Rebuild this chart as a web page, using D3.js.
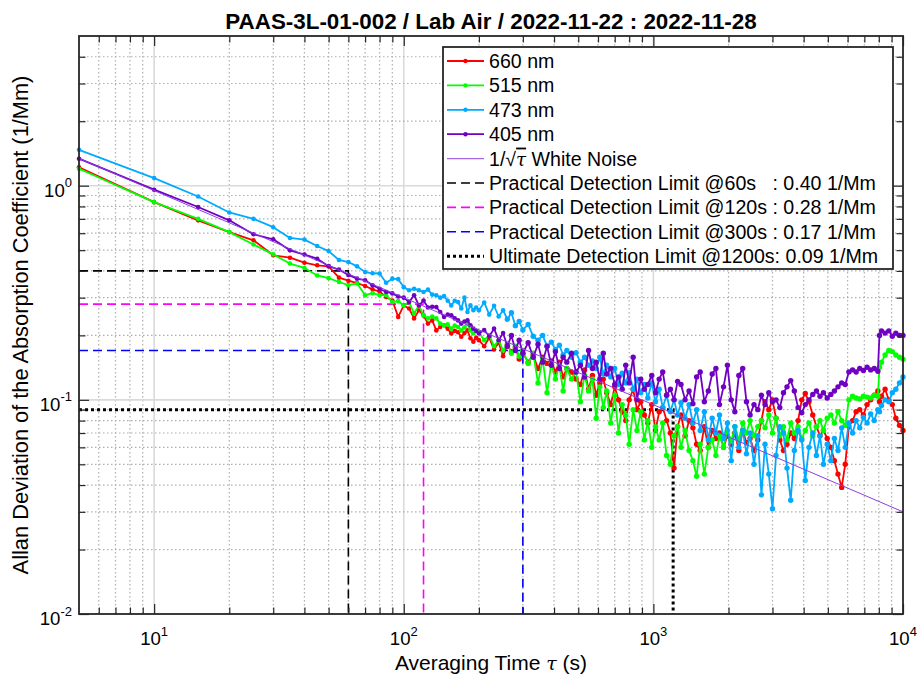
<!DOCTYPE html>
<html><head><meta charset="utf-8">
<script src="https://cdn.jsdelivr.net/npm/d3@7"></script>
<style>
body{margin:0;background:#fff}
text{font-family:"Liberation Sans",Arial,Helvetica,sans-serif;fill:#000}
</style>
</head><body>
<svg id="c" width="919" height="676"></svg>
<script>
// ---------------- DATA ----------------
const tau = [
5,10,15,20,25,30,35,40,45,50,
55,60,65,70,75,80,85,90,95,100,
105,110,115,120,125,130,135,140,145,150,
155,160,165,170,175,180,185,190,195,200,
210,220,230,240,250,260,270,280,290,300,
315,330,345,360,375,390,405,420,435,450,
470,490,510,530,550,570,590,610,630,650,
675,700,725,750,775,800,830,860,890,920,
950,985,1020,1055,1090,1130,1170,1210,1250,1290,
1340,1390,1440,1490,1540,1600,1660,1720,1780,1840,
1910,1980,2050,2120,2200,2280,2360,2440,2530,2620,
2710,2800,2900,3000,3100,3210,3320,3430,3550,3670,
3800,3930,4060,4200,4350,4500,4650,4800,4970,5140,
5310,5490,5680,5870,6070,6280,6490,6710,6940,7180,
7420,7670,7930,8050,8200,8480,8770,9060,9360,9680,10000];

const adev660 = [
1.22,0.838,0.689,0.607,0.556,0.473,0.461,0.437,0.425,0.42,
0.372,0.36,0.351,0.34,0.328,0.32,0.302,0.291,0.244,0.276,
0.267,0.24,0.262,0.248,0.227,0.235,0.211,0.219,0.223,0.215,
0.204,0.21,0.207,0.197,0.205,0.211,0.194,0.187,0.195,0.19,
0.178,0.195,0.172,0.185,0.16,0.18,0.168,0.175,0.155,0.165,
0.15,0.162,0.14,0.158,0.148,0.152,0.135,0.15,0.128,0.14,
0.135,0.125,0.118,0.138,0.112,0.13,0.105,0.12,0.125,0.108,
0.095,0.115,0.1,0.088,0.08,0.1,0.112,0.09,0.098,0.085,
0.078,0.095,0.072,0.088,0.092,0.08,0.07,0.048,0.075,0.085,
0.068,0.08,0.074,0.062,0.058,0.075,0.06,0.072,0.066,0.07,
0.06,0.068,0.062,0.07,0.058,0.072,0.063,0.066,0.058,0.065,
0.08,0.098,0.09,0.1,0.082,0.065,0.058,0.062,0.07,0.066,
0.08,0.1,0.107,0.098,0.085,0.075,0.068,0.072,0.066,0.06,
0.052,0.045,0.039,0.05,0.075,0.08,0.088,0.09,0.085,0.095,
0.1,0.105,0.11,0.098,0.104,0.112,0.1,0.095,0.082,0.076,0.072];

const adev515 = [
1.20,0.838,0.70,0.607,0.531,0.478,0.433,0.413,0.381,0.37,
0.355,0.343,0.35,0.308,0.315,0.308,0.308,0.286,0.289,0.276,
0.286,0.253,0.276,0.248,0.24,0.245,0.24,0.227,0.223,0.225,
0.215,0.222,0.219,0.211,0.218,0.227,0.211,0.204,0.21,0.207,
0.19,0.2,0.178,0.19,0.17,0.182,0.165,0.178,0.16,0.17,
0.148,0.165,0.12,0.155,0.108,0.148,0.125,0.145,0.11,0.14,
0.125,0.135,0.098,0.13,0.11,0.125,0.082,0.115,0.092,0.11,
0.078,0.105,0.07,0.095,0.085,0.062,0.09,0.072,0.088,0.065,
0.08,0.06,0.075,0.065,0.078,0.055,0.05,0.068,0.075,0.06,
0.072,0.058,0.052,0.044,0.062,0.045,0.06,0.065,0.055,0.068,
0.06,0.072,0.064,0.075,0.065,0.078,0.07,0.08,0.068,0.075,
0.08,0.074,0.085,0.07,0.082,0.068,0.075,0.065,0.078,0.07,
0.075,0.066,0.072,0.078,0.068,0.075,0.08,0.072,0.082,0.085,
0.078,0.088,0.08,0.076,0.1,0.104,0.102,0.101,0.104,0.103,
0.102,0.105,0.104,0.142,0.15,0.162,0.17,0.168,0.162,0.158,0.155];

const adev473 = [
1.47,1.085,0.89,0.75,0.70,0.64,0.57,0.56,0.523,0.495,
0.45,0.44,0.42,0.395,0.39,0.389,0.352,0.368,0.366,0.336,
0.325,0.33,0.325,0.319,0.327,0.31,0.308,0.30,0.305,0.29,
0.276,0.29,0.286,0.267,0.30,0.257,0.276,0.262,0.27,0.262,
0.285,0.25,0.275,0.245,0.262,0.238,0.255,0.222,0.232,0.212,
0.225,0.198,0.19,0.2,0.178,0.186,0.172,0.18,0.162,0.17,
0.158,0.166,0.15,0.158,0.145,0.152,0.14,0.158,0.132,0.145,
0.128,0.14,0.118,0.133,0.12,0.134,0.112,0.125,0.108,0.118,
0.102,0.12,0.098,0.112,0.092,0.105,0.088,0.1,0.085,0.097,
0.082,0.095,0.078,0.09,0.072,0.088,0.065,0.082,0.07,0.085,
0.066,0.078,0.052,0.075,0.06,0.072,0.056,0.07,0.05,0.068,
0.036,0.062,0.045,0.031,0.055,0.075,0.07,0.048,0.034,0.058,
0.072,0.065,0.042,0.06,0.07,0.055,0.068,0.05,0.062,0.052,
0.066,0.058,0.074,0.06,0.078,0.07,0.08,0.074,0.083,0.078,
0.086,0.08,0.09,0.088,0.094,0.1,0.098,0.108,0.112,0.12,0.128];

const adev405 = [
1.337,0.958,0.795,0.689,0.593,0.562,0.499,0.477,0.456,0.421,
0.406,0.383,0.368,0.362,0.343,0.33,0.319,0.314,0.304,0.30,
0.286,0.308,0.276,0.291,0.27,0.272,0.271,0.257,0.244,0.25,
0.248,0.24,0.235,0.227,0.232,0.235,0.223,0.215,0.21,0.204,
0.212,0.198,0.215,0.19,0.205,0.178,0.2,0.17,0.19,0.165,
0.185,0.158,0.182,0.15,0.178,0.145,0.168,0.14,0.158,0.15,
0.165,0.135,0.145,0.128,0.17,0.14,0.15,0.125,0.165,0.132,
0.14,0.118,0.128,0.112,0.145,0.12,0.158,0.1,0.125,0.112,
0.118,0.13,0.108,0.125,0.135,0.105,0.112,0.1,0.122,0.118,
0.1,0.11,0.096,0.128,0.135,0.098,0.11,0.132,0.14,0.095,
0.115,0.145,0.1,0.088,0.13,0.14,0.098,0.085,0.095,0.09,
0.105,0.095,0.108,0.098,0.1,0.092,0.108,0.115,0.123,0.11,
0.092,0.087,0.095,0.1,0.106,0.11,0.104,0.108,0.102,0.106,
0.11,0.115,0.12,0.118,0.135,0.138,0.135,0.14,0.137,0.142,
0.138,0.14,0.136,0.2,0.21,0.205,0.21,0.198,0.205,0.2,0.2];

const seriesNames = ["660 nm","515 nm","473 nm","405 nm"];
const whiteNoiseTau = [5, 10000];
const whiteNoiseVal = [1.342, 0.030];
const limitTau = [60, 120, 300, 1200];
const limitVal = [0.40, 0.28, 0.17, 0.09];
const limitLabels = [
  "Practical Detection Limit @60s   : 0.40 1/Mm",
  "Practical Detection Limit @120s : 0.28 1/Mm",
  "Practical Detection Limit @300s : 0.17 1/Mm",
  "Ultimate Detection Limit @1200s: 0.09 1/Mm"];
const xTickValues = [10, 100, 1000, 10000];
const xTickExp = ["1","2","3","4"];
const yTickValues = [0.01, 0.1, 1];
const yTickExp = ["-2","-1","0"];
const titleText = "PAAS-3L-01-002 / Lab Air / 2022-11-22 : 2022-11-28";

// ---------------- CHART ----------------
const svg = d3.select("#c");
const L = 79, R = 903, T = 36, B = 614;
const x = d3.scaleLog().domain([5, 10000]).range([L, R]);
const y = d3.scaleLog().domain([0.01, 5]).range([B, T]);

const seriesColors = ["#ff0000", "#00ff00", "#00aaff", "#7000c2"];
const wnColor = "#8a3ee6";
const limitStyles = [
  {c:"#000000", w:1.6, d:"9,5"},
  {c:"#ff00ff", w:1.6, d:"9,5"},
  {c:"#0000ff", w:1.6, d:"9,5"},
  {c:"#000000", w:3, d:"3,3"}];

// grid
const xAll = x.ticks();
const yAll = y.ticks();
const isDecade = v => Math.abs(Math.log10(v) - Math.round(Math.log10(v))) < 1e-9;
const gGrid = svg.append("g");
xAll.filter(v => v > 5 && v < 10000).forEach(v => {
  const maj = isDecade(v);
  gGrid.append("line").attr("x1", x(v)).attr("x2", x(v)).attr("y1", T).attr("y2", B)
    .attr("stroke", maj ? "#dadada" : "#b0b0b0").attr("stroke-width", maj ? 1.6 : 1.2)
    .attr("stroke-dasharray", maj ? null : "1.5,2.5");
});
yAll.filter(v => v > 0.01 && v < 5).forEach(v => {
  const maj = isDecade(v);
  gGrid.append("line").attr("y1", y(v)).attr("y2", y(v)).attr("x1", L).attr("x2", R)
    .attr("stroke", maj ? "#dadada" : "#b0b0b0").attr("stroke-width", maj ? 1.6 : 1.2)
    .attr("stroke-dasharray", maj ? null : "1.5,2.5");
});

// detection limit lines
const gLim = svg.append("g");
limitTau.forEach((t, i) => {
  const s = limitStyles[i];
  const p = d3.path();
  p.moveTo(x(5), y(limitVal[i])); p.lineTo(x(t), y(limitVal[i])); p.lineTo(x(t), y(0.01));
  gLim.append("path").attr("d", p.toString()).attr("fill", "none")
    .attr("stroke", s.c).attr("stroke-width", s.w).attr("stroke-dasharray", s.d);
});

// data series
const allSeries = [adev660, adev515, adev473, adev405];
const line = d3.line().x(d => x(d[0])).y(d => y(d[1]));
const gData = svg.append("g");
allSeries.forEach((vals, i) => {
  const pts = tau.map((t, k) => [t, vals[k]]);
  gData.append("path").attr("d", line(pts)).attr("fill", "none")
    .attr("stroke", seriesColors[i]).attr("stroke-width", 1.8).attr("stroke-linejoin", "round");
  gData.append("g").selectAll("circle").data(pts).join("circle")
    .attr("cx", d => x(d[0])).attr("cy", d => y(d[1])).attr("r", d => d[0] > 250 ? 2.7 : 2.3)
    .attr("fill", seriesColors[i]);
});

// white noise
svg.append("path").attr("d", line(whiteNoiseTau.map((t, k) => [t, whiteNoiseVal[k]])))
  .attr("fill", "none").attr("stroke", wnColor).attr("stroke-width", 1);

// axes (ticks inside)
function styleAxis(g) {
  g.select(".domain").remove();
  g.selectAll(".tick line").attr("stroke", "#262626").attr("stroke-width", 1.2);
  g.selectAll(".tick text").remove();
}
const xMinor = xAll.filter(v => v > 5 && v < 10000 && !isDecade(v));
const yMinor = yAll.filter(v => v > 0.01 && v < 5 && !isDecade(v));
[[d3.axisBottom, B], [d3.axisTop, T]].forEach(([ax, pos]) => {
  svg.append("g").attr("transform", `translate(0,${pos})`)
    .call(ax(x).tickValues(xMinor).tickSize(-6.5).tickSizeOuter(0).tickFormat("")).call(styleAxis);
  svg.append("g").attr("transform", `translate(0,${pos})`)
    .call(ax(x).tickValues(xTickValues).tickSize(-10).tickSizeOuter(0).tickFormat("")).call(styleAxis);
});
[[d3.axisLeft, L], [d3.axisRight, R]].forEach(([ax, pos]) => {
  svg.append("g").attr("transform", `translate(${pos},0)`)
    .call(ax(y).tickValues(yMinor).tickSize(-6.5).tickSizeOuter(0).tickFormat("")).call(styleAxis);
  svg.append("g").attr("transform", `translate(${pos},0)`)
    .call(ax(y).tickValues(yTickValues).tickSize(-10).tickSizeOuter(0).tickFormat("")).call(styleAxis);
});
svg.append("rect").attr("x", L).attr("y", T).attr("width", R - L).attr("height", B - T)
  .attr("fill", "none").attr("stroke", "#262626").attr("stroke-width", 1.8);

// tick labels
xTickValues.forEach((v, i) => {
  const t = svg.append("text").attr("x", x(v)).attr("y", B + 31).attr("text-anchor", "middle")
    .attr("font-size", 18.6).attr("fill", "#262626");
  t.append("tspan").text("10");
  t.append("tspan").attr("dy", -9).attr("font-size", 13).text(xTickExp[i]);
});
yTickValues.forEach((v, i) => {
  const t = svg.append("text").attr("x", 72).attr("y", y(v) + 11).attr("text-anchor", "end")
    .attr("font-size", 18.6).attr("fill", "#262626");
  t.append("tspan").text("10");
  t.append("tspan").attr("dy", -9.5).attr("font-size", 13).text(yTickExp[i]);
});

// axis labels
const xl = svg.append("text").attr("x", (L + R) / 2).attr("y", 670).attr("text-anchor", "middle")
  .attr("font-size", 21).attr("fill", "#262626");
xl.append("tspan").text("Averaging Time ");
xl.append("tspan").attr("font-style", "italic").attr("font-family", "DejaVu Serif").attr("font-size", 19).text("τ");
xl.append("tspan").text(" (s)");
svg.append("text").attr("transform", `translate(28,${(T + B) / 2}) rotate(-90)`)
  .attr("text-anchor", "middle").attr("font-size", 21.8).attr("fill", "#262626")
  .text("Allan Deviation of the Absorption Coefficient (1/Mm)");

// title
svg.append("text").attr("x", (L + R) / 2).attr("y", 29).attr("text-anchor", "middle")
  .attr("font-size", 22.4).attr("font-weight", "bold").text(titleText);

// legend
const lg = svg.append("g");
lg.append("rect").attr("x", 443).attr("y", 47).attr("width", 450).attr("height", 222)
  .attr("fill", "#fff").attr("stroke", "#262626").attr("stroke-width", 1.8);
const rowY = i => 61 + i * 24.4;
const fs = 19.6;
seriesNames.forEach((n, i) => {
  lg.append("line").attr("x1", 447).attr("x2", 484).attr("y1", rowY(i)).attr("y2", rowY(i))
    .attr("stroke", seriesColors[i]).attr("stroke-width", 1.8);
  lg.append("circle").attr("cx", 465.5).attr("cy", rowY(i)).attr("r", 2.2).attr("fill", seriesColors[i]);
  lg.append("text").attr("x", 489).attr("y", rowY(i) + 7).attr("font-size", fs).text(n);
});
lg.append("line").attr("x1", 447).attr("x2", 484).attr("y1", rowY(4)).attr("y2", rowY(4))
  .attr("stroke", "#a46ae6").attr("stroke-width", 1.2);
const wt = lg.append("text").attr("x", 489).attr("y", rowY(4) + 7).attr("font-size", fs);
wt.append("tspan").text("1/√");
wt.append("tspan").attr("font-style", "italic").attr("font-family", "DejaVu Serif")
  .attr("text-decoration", "overline").attr("font-size", 18).text("τ");
wt.append("tspan").text(" White Noise");
limitLabels.forEach((lab, i) => {
  const s = limitStyles[i];
  lg.append("line").attr("x1", 447).attr("x2", 484).attr("y1", rowY(5 + i)).attr("y2", rowY(5 + i))
    .attr("stroke", s.c).attr("stroke-width", s.w).attr("stroke-dasharray", s.d);
  lg.append("text").attr("x", 489).attr("y", rowY(5 + i) + 7).attr("font-size", fs)
    .attr("xml:space", "preserve").style("white-space", "pre").text(lab);
});
</script>
</body></html>
